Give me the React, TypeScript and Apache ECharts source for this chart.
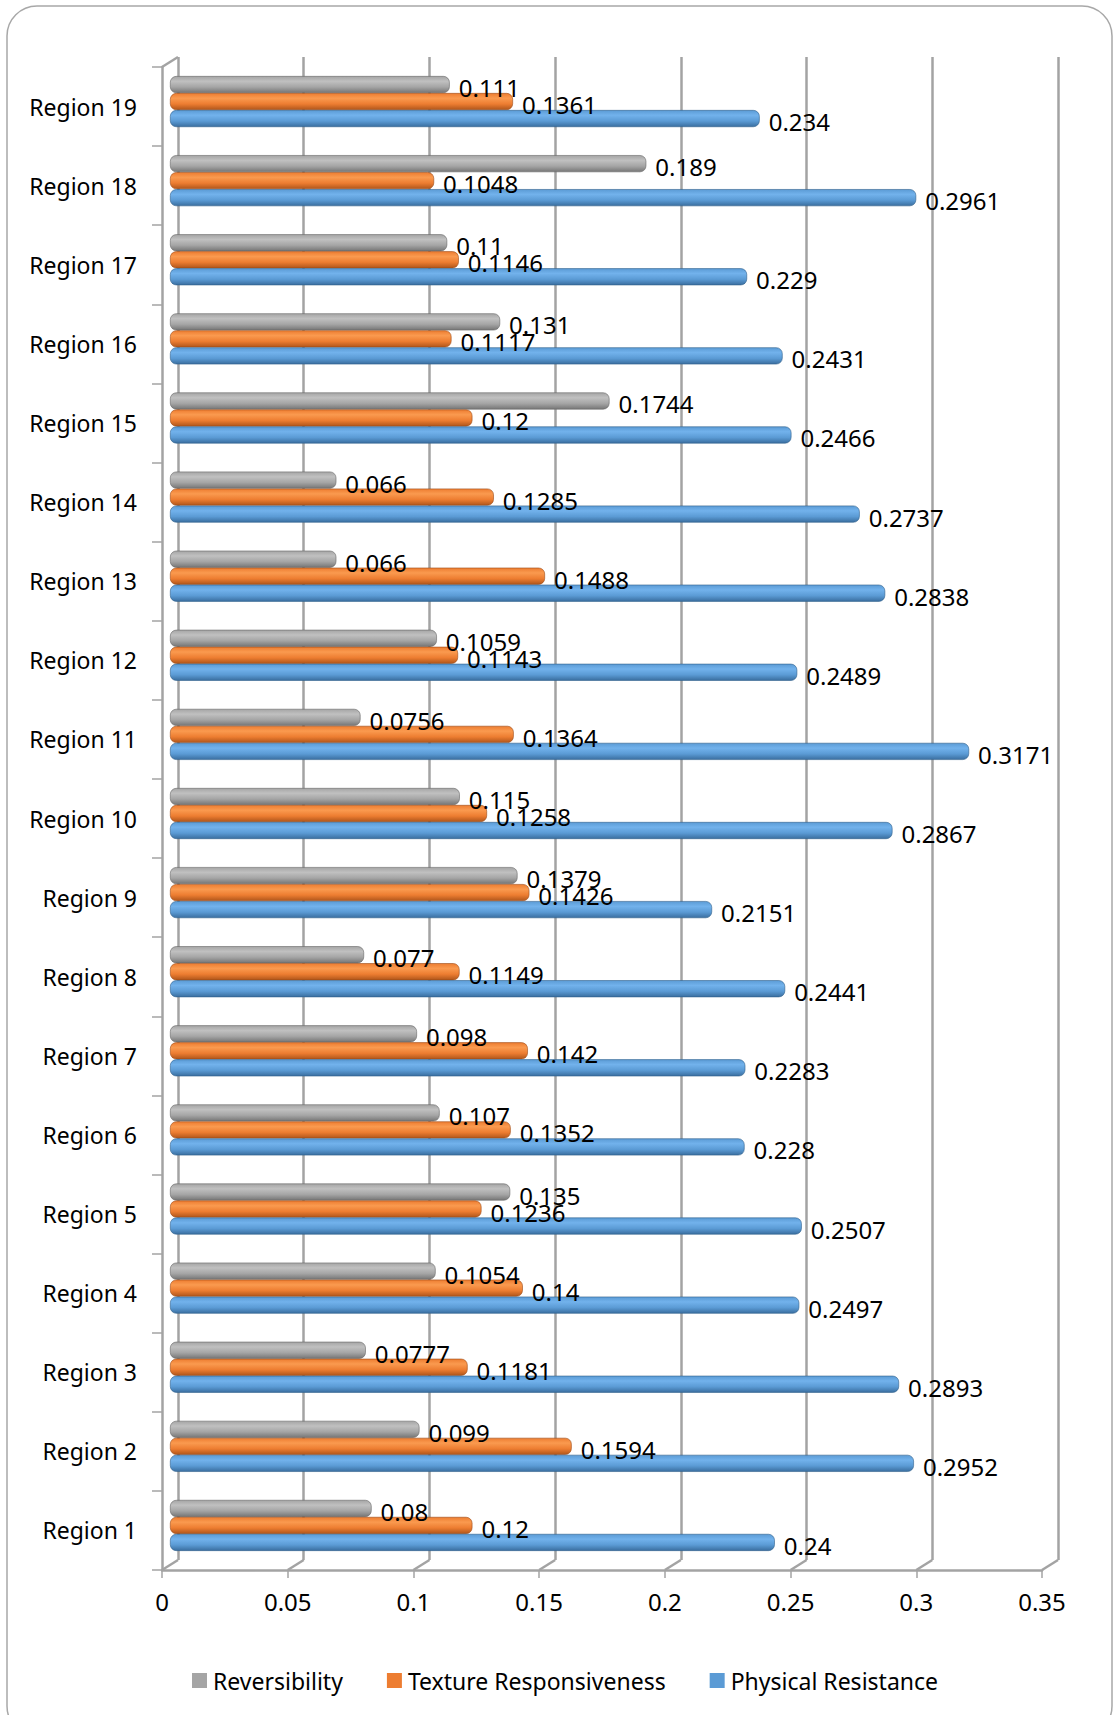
import React, { useEffect, useRef } from "react";
import * as echarts from "echarts";

// Regions, listed bottom to top on the category axis
const categories = [
  "Region 1", "Region 2", "Region 3", "Region 4", "Region 5", "Region 6", "Region 7",
  "Region 8", "Region 9", "Region 10", "Region 11", "Region 12", "Region 13", "Region 14",
  "Region 15", "Region 16", "Region 17", "Region 18", "Region 19",
];

const reversibility = [
  0.08, 0.099, 0.0777, 0.1054, 0.135, 0.107, 0.098, 0.077, 0.1379, 0.115,
  0.0756, 0.1059, 0.066, 0.066, 0.1744, 0.131, 0.11, 0.189, 0.111,
];

const textureResponsiveness = [
  0.12, 0.1594, 0.1181, 0.14, 0.1236, 0.1352, 0.142, 0.1149, 0.1426, 0.1258,
  0.1364, 0.1143, 0.1488, 0.1285, 0.12, 0.1117, 0.1146, 0.1048, 0.1361,
];

const physicalResistance = [
  0.24, 0.2952, 0.2893, 0.2497, 0.2507, 0.228, 0.2283, 0.2441, 0.2151, 0.2867,
  0.3171, 0.2489, 0.2838, 0.2737, 0.2466, 0.2431, 0.229, 0.2961, 0.234,
];

const xTicks = [0, 0.05, 0.1, 0.15, 0.2, 0.25, 0.3, 0.35];

const FONT = "'Noto Sans', 'Open Sans', sans-serif";
const FRAME = "#a3a3a3";

// Front plane of the pseudo-3D box and the depth offset to its back wall
const FRONT = { left: 162, top: 67, width: 880, height: 1503 };
const DEPTH = { dx: 16, dy: -10 };

function cylinder(top: string, light: string, mid: string, dark: string) {
  return new echarts.graphic.LinearGradient(0, 0, 0, 1, [
    { offset: 0, color: top },
    { offset: 0.3, color: light },
    { offset: 0.65, color: mid },
    { offset: 1, color: dark },
  ]);
}

// Within each region the first series sits on top
const seriesDefs = [
  {
    name: "Reversibility",
    data: reversibility,
    legendColor: "#a5a5a5",
    fill: cylinder("#a5a5a5", "#c0c0c0", "#a5a5a5", "#767676"),
    edge: "#676767",
  },
  {
    name: "Texture Responsiveness",
    data: textureResponsiveness,
    legendColor: "#ed7d31",
    fill: cylinder("#ed7d31", "#fa9a4f", "#ed7d31", "#b0561b"),
    edge: "#9c4a16",
  },
  {
    name: "Physical Resistance",
    data: physicalResistance,
    legendColor: "#5b9bd5",
    fill: cylinder("#5b9bd5", "#72b2ec", "#5b9bd5", "#3a6e9f"),
    edge: "#2f5f8c",
  },
];

export default function App() {
  const ref = useRef<HTMLDivElement>(null);

  useEffect(() => {
    if (!ref.current) return;
    const chart = echarts.init(ref.current, null, { renderer: "svg" });

    const back = {
      left: FRONT.left + DEPTH.dx,
      top: FRONT.top + DEPTH.dy,
      width: FRONT.width,
      height: FRONT.height,
    };
    const mid = {
      left: FRONT.left + DEPTH.dx / 2,
      top: FRONT.top + DEPTH.dy / 2,
      width: FRONT.width + 2,
      height: FRONT.height,
    };

    const valueAxisBase = { type: "value", min: 0, max: 0.35, interval: 0.05 };

    const option: any = {
      animation: false,
      backgroundColor: "#ffffff",
      textStyle: { fontFamily: FONT },
      grid: [{ ...back }, { ...FRONT }, { ...mid }],
      xAxis: [
        {
          ...valueAxisBase,
          gridIndex: 0,
          axisLine: { show: false },
          axisTick: { show: false },
          axisLabel: { show: false },
          splitLine: { show: true, lineStyle: { color: FRAME, width: 2.5 } },
        },
        {
          ...valueAxisBase,
          gridIndex: 1,
          axisLine: { show: true, lineStyle: { color: FRAME, width: 2.5 } },
          axisTick: { show: true, length: 8, lineStyle: { color: FRAME, width: 1.5 } },
          axisLabel: {
            show: true,
            margin: 19,
            color: "#000",
            fontSize: 24,
            fontFamily: FONT,
          },
          splitLine: { show: false },
        },
        { ...valueAxisBase, gridIndex: 2, show: false },
      ],
      yAxis: [
        { type: "category", gridIndex: 0, data: categories, show: false },
        {
          type: "category",
          gridIndex: 1,
          data: categories,
          axisLine: { show: true, lineStyle: { color: FRAME, width: 2.5 } },
          axisTick: { show: true, length: 10, lineStyle: { color: FRAME, width: 1.5 } },
          axisLabel: {
            margin: 25,
            color: "#000",
            fontSize: 23,
            fontFamily: FONT,
          },
          splitLine: { show: false },
        },
        { type: "category", gridIndex: 2, data: categories, show: false },
      ],
      legend: {
        data: seriesDefs.map((s) => ({
          name: s.name,
          itemStyle: { color: s.legendColor, borderWidth: 0 },
        })),
        top: 1664,
        left: 187,
        icon: "rect",
        itemWidth: 15,
        itemHeight: 15,
        itemGap: 44,
        textStyle: {
          color: "#000",
          fontSize: 23,
          fontFamily: FONT,
          padding: [0, 0, 0, 1],
        },
      },
      series: seriesDefs.map((s) => ({
        name: s.name,
        type: "bar",
        xAxisIndex: 2,
        yAxisIndex: 2,
        data: s.data,
        barWidth: 17,
        barGap: "0%",
        color: s.legendColor,
        itemStyle: {
          color: s.fill,
          borderColor: s.edge,
          borderWidth: 0.6,
          borderRadius: [6, 6, 6, 6],
        },
        label: {
          show: true,
          position: "right",
          distance: 9,
          offset: [0, 3],
          color: "#000",
          fontSize: 24,
          fontFamily: FONT,
        },
      })),
    };

    chart.setOption(option);

    // Floor diagonals joining each front tick to its back-wall gridline,
    // plus the top-left edge of the side wall.
    const bottomFront = FRONT.top + FRONT.height;
    const floorEdges = xTicks.map((v) => {
      const fx = chart.convertToPixel({ xAxisIndex: 1 }, v) as number;
      const bx = chart.convertToPixel({ xAxisIndex: 0 }, v) as number;
      return {
        type: "line",
        shape: { x1: fx, y1: bottomFront, x2: bx, y2: bottomFront + DEPTH.dy },
        style: { stroke: FRAME, lineWidth: 2.5 },
        z: 1,
      };
    });
    const topEdge = {
      type: "line",
      shape: {
        x1: FRONT.left,
        y1: FRONT.top,
        x2: FRONT.left + DEPTH.dx,
        y2: FRONT.top + DEPTH.dy,
      },
      style: { stroke: FRAME, lineWidth: 2.5 },
      z: 1,
    };

    chart.setOption({
      graphic: [
        {
          type: "rect",
          shape: { x: 7, y: 6, width: 1105, height: 1730, r: 30 },
          style: { fill: "none", stroke: "#a8a8a8", lineWidth: 1.5 },
          z: 0,
          silent: true,
        },
        ...floorEdges,
        topEdge,
      ],
    });

    return () => chart.dispose();
  }, []);

  return (
    <div
      ref={ref}
      style={{ position: "absolute", left: 0, top: 0, width: 1117, height: 1715 }}
    />
  );
}
